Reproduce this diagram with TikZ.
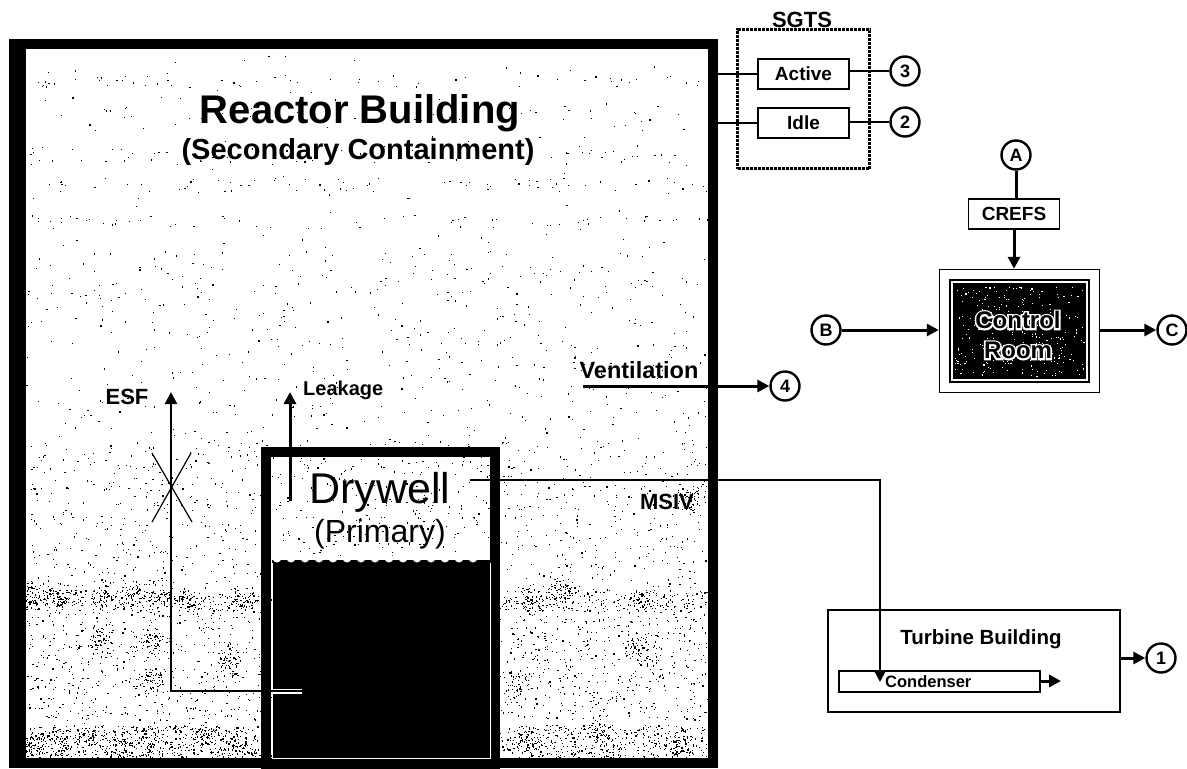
\documentclass[tikz,border=0pt]{standalone}
\usepackage{fontspec}
\setmainfont{Liberation Sans}
\newfontfamily\halofont[FakeBold=14]{Liberation Sans Bold}
\usetikzlibrary{arrows.meta}
\tikzset{
  port/.style={draw,circle,line width=2.4pt,fill=white,minimum size=29pt,inner sep=0pt,font=\fontsize{18}{20}\selectfont\bfseries},
  unitbox/.style={draw,line width=1.4pt,fill=white,inner sep=0pt,font=\fontsize{19}{22}\selectfont\bfseries},
  wall/.style={draw,line width=10pt,inner sep=0pt},
  flow/.style={line width=3pt,-{Triangle[length=12pt,width=12pt]}},
  pipe/.style={line width=1.6pt},
  caption/.style={inner sep=0pt,font=\fontsize{22}{24}\selectfont\bfseries},
  speck/.style={fill=black}
}
\begin{document}
\begin{tikzpicture}[x=1pt,y=-1pt]
  \useasboundingbox (0,0) rectangle (1187,769);
  % speckle of the reactor building
  \pgfmathsetseed{4711}
  \foreach \ytop/\yspan/\num in {55/295/200,75/12/50,105/15/40,148/15/50,178/14/60,215/14/50,250/190/400,440/150/1000,590/20/800,610/110/1500,725/33/1500}{
    \foreach \i in {1,...,\num}{
      \fill[speck] ({26+681*rnd},{\ytop+\yspan*rnd}) rectangle ++(1.2,1.2);
    }
  }
  \foreach \cx/\cy in {32/595,58/597,102/597,134/595,160/595,32/745,60/740,90/735,118/745,150/740,205/738,238/745,230/660,100/640,150/640,183/600,240/600,530/600,560/590,640/600,530/740,600/730,680/745,640/650,520/680,690/500,150/680}{
    \foreach \i in {1,...,55}{
      \fill[speck] ({\cx+14*(rnd+rnd+rnd-1.5)},{\cy+14*(rnd+rnd+rnd-1.5)}) rectangle ++(1.2,1.2);
    }
  }
  \node[wall,minimum width=699pt,minimum height=719pt] (reactor) at (363.5,403.5) {};
  \fill (9,39) rectangle (26,768);
  % drywell
  \node[wall,minimum width=229pt,minimum height=317pt,anchor=north] (drywell) at (380.5,446.5) {};
  \fill[white] (273,556) rectangle (489,562);
  \fill (272,560) rectangle (490,758);
  \foreach \x in {277,291,...,485}{
    \fill[white] (\x,558) circle (4.5);
  }
  \draw[white,line width=0.9pt] (272,563) -- (272,758.5) -- (490,758.5) -- (490,563);
  \node[font=\fontsize{43}{46}\selectfont] (drywelltext) at (380,492) {Drywell};
  \node[font=\fontsize{32}{34}\selectfont] (primary) at (380,534) {(Primary)};
  \node[font=\fontsize{40}{44}\selectfont\bfseries] (reactortext) at (360,113) {Reactor Building};
  \node[font=\fontsize{29}{32}\selectfont\bfseries] (secondary) at (358,152) {(Secondary Containment)};
  % SGTS
  \node[draw,densely dotted,line width=3pt,minimum width=132pt,minimum height=139pt] (sgts) at (803.5,99) {};
  \node[caption,inner sep=0pt] (sgtstext) at (802,20) {SGTS};
  \node[unitbox,minimum width=91pt,minimum height=30pt] (active) at (803.5,74) {Active};
  \node[unitbox,minimum width=91pt,minimum height=30pt] (idle) at (803.5,123) {Idle};
  \node[port] (3) at (905,71) {3};
  \node[port] (2) at (905,122) {2};
  \draw[pipe] (reactor.east |- active) -- (active);
  \draw[pipe] (reactor.east |- idle) -- (idle);
  \draw[pipe] (active.east |- 3) -- (3);
  \draw[pipe] (idle.east |- 2) -- (2);
  % control room
  \node[draw,line width=1.5pt,fill=white,minimum width=160pt,minimum height=123pt] (room) at (1019.5,331) {};
  \node[draw,line width=1.5pt,inner sep=0pt,minimum width=139pt,minimum height=102pt] (roomframe) at (1019.5,331) {};
  \node[fill=black,inner sep=0pt,minimum width=133pt,minimum height=96pt] (roomcore) at (1019.5,331) {};
  \pgfmathsetseed{815}
  \foreach \i in {1,...,260}{
    \fill[white] ({955+129*rnd},{286+90*rnd}) rectangle ++(1.1,1.1);
  }
  \node[align=center,text=white,font=\fontsize{24}{30}\halofont,inner sep=0pt] (roomhalo) at (1018,335) {Control\\Room};
  \node[align=center,text=black,font=\fontsize{24}{30}\selectfont\bfseries,inner sep=0pt] (roomtext) at (1018,335) {Control\\Room};
  \node[port] (A) at (1016,155) {A};
  \node[port] (B) at (826,330) {B};
  \node[port] (C) at (1172,330) {C};
  \node[unitbox,minimum width=91pt,minimum height=30pt] (crefs) at (1014,214) {CREFS};
  \draw[line width=3pt] (A) -- (A |- crefs.north);
  \draw[flow] (crefs) -- (crefs |- room.north);
  \draw[flow] (B) -- (room.west |- B);
  \draw[flow] (room.east |- C) -- (C);
  % ventilation
  \node[port] (4) at (785,386) {4};
  \coordinate (ventstart) at (583,386);
  \draw[flow] (ventstart) -- (4);
  \node[caption,font=\fontsize{23.5}{26}\selectfont\bfseries] (ventilation) at (639,370) {Ventilation};
  % turbine building
  \node[draw,line width=1.8pt,minimum width=292pt,minimum height=102pt] (turbine) at (974,661) {};
  \node[caption,font=\fontsize{20.5}{23}\selectfont\bfseries] (turbinetext) at (981,639) {Turbine Building};
  \node[draw,line width=1.4pt,inner sep=0pt,minimum width=201pt,minimum height=21pt] (condenser) at (939.5,681.5) {};
  \node[inner sep=0pt,font=\fontsize{16.5}{18}\selectfont\bfseries,anchor=west] (condensertext) at (885,682) {Condenser};
  \node[port] (1) at (1161,658) {1};
  \coordinate (condout) at (1061,681);
  \draw[flow] (condenser.east |- condout) -- (condout);
  \draw[flow] (turbine.east |- 1) -- (1);
  % main steam
  \coordinate (msivstart) at (470,480);
  \coordinate (msivbend) at (880,480);
  \coordinate (msivend) at (880,682);
  \draw[flow,line width=2.4pt] (msivstart) -- (msivbend) -- (msivend);
  \node[caption] (msiv) at (667,502) {MSIV};
  % leakage
  \coordinate (leakstart) at (290,501);
  \coordinate (leakend) at (290,392);
  \draw[flow] (leakstart) -- (leakend);
  \node[inner sep=0pt,anchor=west,font=\fontsize{20}{22}\selectfont\bfseries] (leakage) at (303,390) {Leakage};
  % ESF
  \coordinate (esfend) at (171,392);
  \coordinate (esfbend) at (171,691);
  \coordinate (esfstart) at (302,691);
  \draw[white,line width=5pt] (270.5,691) -- (esfstart);
  \draw[flow,line width=2.2pt] (esfstart) -- (esfbend) -- (esfend);
  \coordinate (xa) at (152,453);
  \coordinate (xb) at (192,522);
  \coordinate (xc) at (191,453);
  \coordinate (xd) at (152,522);
  \draw[line width=1.2pt] (xa) -- (xb) (xc) -- (xd);
  \node[caption] (esf) at (127,397) {ESF};
\end{tikzpicture}
\end{document}
